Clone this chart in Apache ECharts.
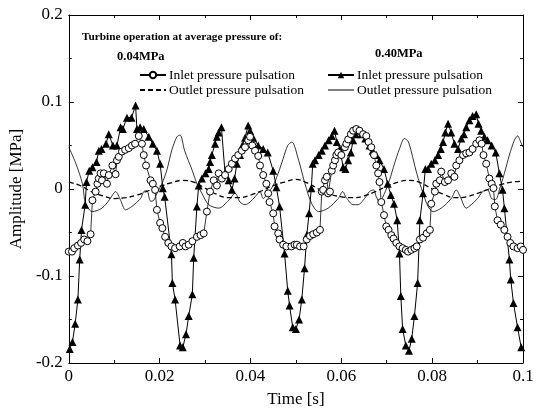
<!DOCTYPE html>
<html>
<head>
<meta charset="utf-8">
<script src="https://cdn.jsdelivr.net/npm/echarts@6/dist/echarts.min.js"></script>
<style>
  html, body { margin: 0; padding: 0; background: #fff; }
  #chart { width: 542px; height: 413px; }
</style>
</head>
<body>
<div id="chart"></div>
<script>
// tick labels
const xTicks = ['0', '0.02', '0.04', '0.06', '0.08', '0.1']
const yTicks = ['-0.2', '-0.1', '0', '0.1', '0.2']

// 0.04MPa inlet pressure pulsation (open circles) [time s, amplitude MPa]
const inlet004 = [
  [0.0000,-0.072],[0.0007,-0.072],[0.0012,-0.068],[0.0020,-0.065],[0.0027,-0.062],[0.0034,-0.058],[0.0041,-0.060],[0.0048,-0.052],
  [0.0052,-0.013],[0.0059,-0.003],[0.0063,0.006],[0.0066,0.012],[0.0070,0.018],[0.0073,0.010],[0.0077,0.018],[0.0084,0.006],
  [0.0088,0.016],[0.0096,0.027],[0.0103,0.017],[0.0106,0.033],[0.0110,0.037],[0.0117,0.043],[0.0124,0.045],[0.0132,0.047],
  [0.0139,0.050],[0.0146,0.052],[0.0154,0.061],[0.0161,0.052],[0.0165,0.039],[0.0170,0.027],[0.0180,0.010],[0.0185,0.006],
  [0.0190,-0.001],[0.0194,-0.024],[0.0201,-0.039],[0.0206,-0.045],[0.0212,-0.055],[0.0219,-0.062],[0.0226,-0.066],[0.0234,-0.068],
  [0.0244,-0.066],[0.0251,-0.062],
  [0.0257,-0.066],[0.0264,-0.064],[0.0272,-0.060],[0.0282,-0.055],[0.0290,-0.053],[0.0297,-0.051],[0.0304,-0.026],[0.0311,-0.003],
  [0.0319,0.010],[0.0326,0.004],[0.0330,0.018],[0.0337,0.012],[0.0344,0.016],[0.0352,0.023],[0.0359,0.029],[0.0366,0.035],
  [0.0373,0.039],[0.0381,0.044],[0.0388,0.048],[0.0395,0.056],[0.0399,0.060],[0.0404,0.050],[0.0410,0.044],[0.0417,0.038],
  [0.0421,0.027],[0.0428,0.016],[0.0435,0.006],[0.0439,-0.005],[0.0442,-0.015],[0.0450,-0.028],[0.0453,-0.043],[0.0461,-0.051],
  [0.0464,-0.058],[0.0472,-0.064],[0.0479,-0.066],[0.0490,-0.066],[0.0497,-0.064],
  [0.0502,-0.064],[0.0509,-0.066],[0.0517,-0.066],[0.0524,-0.058],[0.0531,-0.054],[0.0538,-0.052],[0.0546,-0.050],[0.0553,-0.047],
  [0.0557,-0.003],[0.0560,-0.001],[0.0564,0.010],[0.0568,0.014],[0.0571,-0.005],[0.0575,-0.003],[0.0579,0.021],[0.0582,0.027],
  [0.0586,0.033],[0.0589,0.039],[0.0593,0.042],[0.0600,0.039],[0.0608,0.048],[0.0611,0.052],[0.0615,0.057],[0.0621,0.063],
  [0.0626,0.067],[0.0633,0.069],[0.0640,0.067],[0.0648,0.063],[0.0655,0.061],[0.0660,0.054],[0.0666,0.048],[0.0672,0.039],
  [0.0677,0.027],[0.0681,0.018],[0.0684,0.008],[0.0688,-0.015],[0.0694,-0.030],[0.0699,-0.043],[0.0704,-0.047],[0.0710,-0.053],
  [0.0715,-0.057],[0.0721,-0.062],[0.0728,-0.066],[0.0735,-0.068],[0.0742,-0.070],
  [0.0747,-0.072],[0.0754,-0.070],[0.0761,-0.068],[0.0766,-0.066],[0.0773,-0.058],[0.0780,-0.056],[0.0788,-0.051],[0.0795,-0.047],
  [0.0798,-0.017],[0.0806,-0.003],[0.0809,0.006],[0.0817,0.010],[0.0820,0.020],[0.0828,0.008],[0.0835,0.010],[0.0842,0.018],
  [0.0849,0.014],[0.0853,0.027],[0.0860,0.033],[0.0868,0.039],[0.0875,0.041],[0.0882,0.042],[0.0889,0.046],[0.0897,0.052],
  [0.0904,0.056],[0.0909,0.052],[0.0913,0.039],[0.0919,0.029],[0.0926,0.012],[0.0931,0.006],[0.0935,0.001],[0.0938,-0.020],
  [0.0944,-0.036],[0.0951,-0.041],[0.0959,-0.047],[0.0966,-0.055],[0.0972,-0.062],[0.0979,-0.066],[0.0988,-0.068],[0.0995,-0.066],
  [0.1000,-0.070]
]

// 0.40MPa inlet pressure pulsation (filled triangles)
const inlet040 = [
  [0.0002,-0.184],[0.0008,-0.176],[0.0014,-0.155],[0.0020,-0.127],[0.0024,-0.081],[0.0028,-0.047],[0.0036,-0.018],[0.0039,0.008],
  [0.0045,0.021],[0.0052,0.025],[0.0061,0.031],[0.0066,0.044],[0.0072,0.046],[0.0082,0.052],[0.0088,0.063],[0.0097,0.050],
  [0.0106,0.050],[0.0114,0.071],[0.0119,0.069],[0.0128,0.082],[0.0138,0.082],[0.0147,0.096],[0.0150,0.069],[0.0157,0.071],
  [0.0165,0.069],[0.0176,0.060],[0.0185,0.052],[0.0194,0.044],[0.0201,0.029],[0.0207,0.001],[0.0211,-0.009],[0.0226,-0.075],
  [0.0228,-0.108],[0.0234,-0.127],[0.0245,-0.180],
  [0.0251,-0.182],[0.0258,-0.167],[0.0264,-0.146],[0.0272,-0.121],[0.0275,-0.079],[0.0282,-0.020],[0.0286,0.004],[0.0293,0.012],
  [0.0301,0.018],[0.0308,0.023],[0.0311,0.031],[0.0315,0.039],[0.0322,0.052],[0.0326,0.060],[0.0330,0.065],[0.0336,0.071],
  [0.0344,0.018],[0.0352,0.010],[0.0359,-0.001],[0.0365,0.012],[0.0370,0.029],[0.0377,0.039],[0.0382,0.050],[0.0388,0.059],
  [0.0395,0.073],[0.0399,0.067],[0.0406,0.059],[0.0417,0.050],[0.0428,0.046],[0.0438,0.042],[0.0450,0.021],[0.0457,0.002],
  [0.0464,-0.020],[0.0475,-0.074],[0.0482,-0.117],[0.0486,-0.134],[0.0493,-0.159],
  [0.0500,-0.161],[0.0507,-0.150],[0.0513,-0.127],[0.0519,-0.091],[0.0524,-0.053],[0.0529,-0.028],[0.0534,0.001],[0.0537,0.029],
  [0.0542,0.033],[0.0550,0.039],[0.0557,0.044],[0.0564,0.050],[0.0572,0.056],[0.0579,0.061],[0.0585,0.067],[0.0590,0.054],
  [0.0597,0.046],[0.0604,0.025],[0.0609,0.023],[0.0615,0.033],[0.0621,0.042],[0.0626,0.056],[0.0631,0.063],[0.0637,0.067],
  [0.0644,0.063],[0.0653,0.058],[0.0662,0.050],[0.0669,0.044],[0.0677,0.039],[0.0684,0.033],[0.0694,0.023],[0.0702,0.006],
  [0.0709,-0.007],[0.0716,-0.017],[0.0723,-0.036],[0.0728,-0.074],[0.0731,-0.123],[0.0735,-0.161],[0.0742,-0.180],
  [0.0749,-0.186],[0.0755,-0.172],[0.0761,-0.146],[0.0768,-0.108],[0.0773,-0.036],[0.0780,-0.005],[0.0785,0.023],[0.0791,0.023],
  [0.0798,0.029],[0.0806,0.033],[0.0813,0.039],[0.0819,0.046],[0.0824,0.054],[0.0829,0.065],[0.0835,0.075],[0.0842,0.065],
  [0.0849,0.052],[0.0857,0.046],[0.0864,0.058],[0.0870,0.063],[0.0875,0.071],[0.0882,0.079],[0.0889,0.084],[0.0897,0.086],
  [0.0902,0.075],[0.0908,0.067],[0.0915,0.060],[0.0922,0.056],[0.0931,0.050],[0.0940,0.042],[0.0948,0.018],[0.0955,-0.001],
  [0.0959,-0.022],[0.0970,-0.081],[0.0973,-0.104],[0.0979,-0.131],[0.0988,-0.159],[0.0996,-0.182]
]

// 0.04MPa outlet pressure pulsation (dashed)
const outlet004 = [
  [0.0000,0.008],[0.0025,0.004],[0.0050,-0.003],[0.0075,-0.008],[0.0100,-0.011],[0.0125,-0.010],[0.0150,-0.007],[0.0175,-0.002],
  [0.0200,0.003],[0.0225,0.007],[0.0250,0.010],[0.0275,0.008],[0.0300,0.001],[0.0325,-0.006],[0.0350,-0.010],[0.0375,-0.010],
  [0.0400,-0.007],[0.0425,-0.002],[0.0450,0.004],[0.0475,0.008],[0.0500,0.011],[0.0525,0.007],[0.0550,0.000],[0.0575,-0.006],
  [0.0600,-0.009],[0.0625,-0.010],[0.0650,-0.008],[0.0675,-0.003],[0.0700,0.003],[0.0725,0.008],[0.0750,0.010],[0.0775,0.007],
  [0.0800,0.000],[0.0825,-0.006],[0.0850,-0.010],[0.0875,-0.009],[0.0900,-0.005],[0.0925,0.000],[0.0950,0.005],[0.0975,0.008],
  [0.1000,0.009]
]

// 0.40MPa outlet pressure pulsation (thin solid)
const outlet040 = [
  [0.0000,0.048],[0.0015,0.030],[0.0030,0.006],[0.0037,-0.017],[0.0052,-0.026],[0.0073,-0.022],[0.0090,-0.012],[0.0103,-0.003],
  [0.0114,-0.013],[0.0125,-0.024],[0.0139,-0.020],[0.0158,-0.011],[0.0165,-0.003],[0.0172,-0.002],[0.0180,-0.014],[0.0187,-0.013],
  [0.0194,-0.005],[0.0205,0.006],[0.0216,0.022],[0.0227,0.045],[0.0238,0.060],[0.0245,0.062],[0.0255,0.044],[0.0272,0.021],
  [0.0282,0.006],[0.0293,-0.005],[0.0308,-0.018],[0.0330,-0.022],[0.0352,-0.013],[0.0366,-0.005],[0.0377,-0.015],[0.0388,-0.018],
  [0.0399,-0.015],[0.0410,-0.009],[0.0421,-0.003],[0.0428,-0.011],[0.0438,-0.005],[0.0450,0.004],[0.0461,0.018],[0.0472,0.035],
  [0.0482,0.050],[0.0491,0.054],[0.0506,0.033],[0.0520,0.006],[0.0535,-0.017],[0.0550,-0.026],[0.0571,-0.022],[0.0593,-0.011],
  [0.0603,-0.003],[0.0611,-0.010],[0.0626,-0.018],[0.0637,-0.018],[0.0651,-0.011],[0.0662,-0.003],[0.0671,-0.001],[0.0677,-0.009],
  [0.0684,-0.015],[0.0695,-0.005],[0.0706,0.010],[0.0717,0.029],[0.0728,0.046],[0.0739,0.058],[0.0748,0.054],[0.0766,0.018],
  [0.0780,-0.005],[0.0791,-0.020],[0.0802,-0.026],[0.0820,-0.022],[0.0842,-0.011],[0.0853,-0.001],[0.0862,-0.009],[0.0875,-0.022],
  [0.0886,-0.018],[0.0900,-0.011],[0.0911,-0.003],[0.0922,-0.001],[0.0931,-0.011],[0.0940,-0.012],[0.0948,-0.001],[0.0959,0.018],
  [0.0970,0.039],[0.0981,0.056],[0.0988,0.061],[0.0995,0.054],[0.1000,0.048]
]

const legendText = {
  in004: 'Inlet pressure pulsation',
  out004: 'Outlet pressure pulsation',
  in040: 'Inlet pressure pulsation',
  out040: 'Outlet pressure pulsation'
}

const serif = 'Liberation Serif'

const chart = echarts.init(document.getElementById('chart'))

const axisCommon = {
  axisLine: { show: true, onZero: false, lineStyle: { color: '#000', width: 1 } },
  axisTick: { show: true, inside: true, length: 5, lineStyle: { color: '#000' } },
  minorTick: { show: true, splitNumber: 2, length: 3, lineStyle: { color: '#000' } },
  splitLine: { show: false }
}

// legend style shared by both columns
const legendCommon = {
  top: 63, orient: 'vertical', itemGap: 1, itemWidth: 26, itemHeight: 8,
  formatter: n => legendText[n],
  textStyle: { fontFamily: serif, fontSize: 13.5, color: '#000', padding: [0, 0, 0, -2] }
}

chart.setOption({
  animation: false,
  backgroundColor: '#fff',
  title: [
    { text: 'Turbine operation at average pressure of:', left: 77, top: 27,
      textStyle: { fontFamily: serif, fontSize: 11.3, fontWeight: 'bold', color: '#000' } },
    { text: '0.04MPa', left: 112, top: 45,
      textStyle: { fontFamily: serif, fontSize: 12.5, fontWeight: 'bold', color: '#000' } },
    { text: '0.40MPa', left: 370, top: 42,
      textStyle: { fontFamily: serif, fontSize: 12.5, fontWeight: 'bold', color: '#000' } }
  ],
  legend: [
    Object.assign({}, legendCommon, {
      left: 134,
      data: ['in004', { name: 'out004', itemStyle: { opacity: 0 } }]
    }),
    Object.assign({}, legendCommon, {
      left: 322,
      data: ['in040', { name: 'out040', itemStyle: { opacity: 0 }, lineStyle: { width: 1 } }]
    })
  ],
  grid: { left: 65, right: 19, top: 15, bottom: 47 },
  xAxis: [
    Object.assign({}, axisCommon, {
      type: 'value', min: 0, max: 0.1, interval: 0.02, position: 'bottom',
      name: 'Time [s]', nameLocation: 'middle', nameGap: 28,
      nameTextStyle: { fontFamily: serif, fontSize: 17, color: '#000' },
      axisLabel: { margin: 5, fontFamily: serif, fontSize: 17, color: '#000',
        formatter: (v) => xTicks[Math.round(v / 0.02)] }
    }),
    Object.assign({}, axisCommon, {
      type: 'value', min: 0, max: 0.1, interval: 0.02, position: 'top',
      axisLabel: { show: false }
    })
  ],
  yAxis: [
    Object.assign({}, axisCommon, {
      type: 'value', min: -0.2, max: 0.2, interval: 0.1, position: 'left',
      name: 'Amplitude [MPa]', nameLocation: 'middle', nameGap: 42,
      nameTextStyle: { fontFamily: serif, fontSize: 17, color: '#000' },
      axisLabel: { margin: 6, fontFamily: serif, fontSize: 17, color: '#000',
        formatter: (v) => yTicks[Math.round((v + 0.2) / 0.1)] }
    }),
    Object.assign({}, axisCommon, {
      type: 'value', min: -0.2, max: 0.2, interval: 0.1, position: 'right',
      axisLabel: { show: false }
    })
  ],
  series: [
    {
      name: 'out004', type: 'line', data: outlet004, smooth: 0.4, symbol: 'none',
      lineStyle: { color: '#000', width: 1.3, type: [5, 3] }, itemStyle: { color: '#000' }, z: 2
    },
    {
      name: 'out040', type: 'line', data: outlet040, smooth: 0.3, symbol: 'none',
      lineStyle: { color: '#000', width: 0.8 }, itemStyle: { color: '#000' }, z: 2
    },
    {
      name: 'in040', type: 'line', data: inlet040, symbol: 'triangle', symbolSize: 8,
      lineStyle: { color: '#000', width: 1 }, itemStyle: { color: '#000' }, z: 3
    },
    {
      name: 'in004', type: 'line', data: inlet004, symbol: 'circle', symbolSize: 7,
      lineStyle: { color: '#000', width: 0.8 },
      itemStyle: { color: '#fff', borderColor: '#000', borderWidth: 1 }, z: 4
    }
  ]
})
</script>
</body>
</html>
